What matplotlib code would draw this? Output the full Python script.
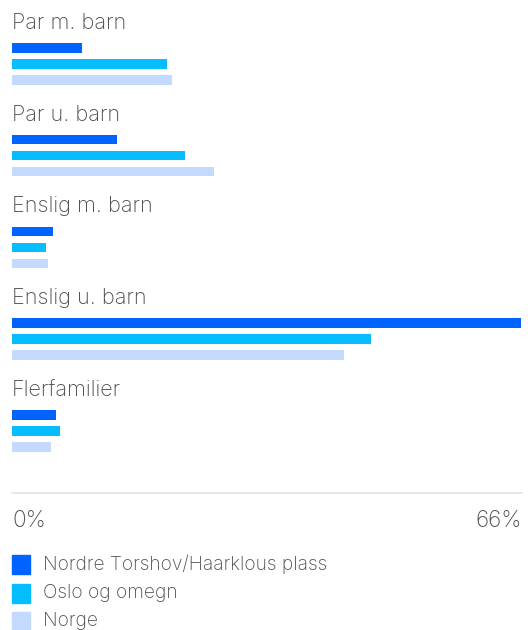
import matplotlib
matplotlib.use("Agg")
import matplotlib.pyplot as plt

# Data
categories = ["Par m. barn", "Par u. barn", "Enslig m. barn", "Enslig u. barn", "Flerfamilier"]
series = ["Nordre Torshov/Haarklous plass", "Oslo og omegn", "Norge"]
torshov = [9.0, 13.6, 5.3, 65.9, 5.7]
oslo = [20.0, 22.4, 4.4, 46.5, 6.2]
norge = [20.7, 26.1, 4.7, 43.0, 5.0]
tick_labels = ["0%", "66%"]
x_max = 66

colors = ["#0062FF", "#06BEFF", "#C3DAFE"]
text_color = "#4F4F4F"

plt.rcParams["font.family"] = ["Inter", "DejaVu Sans"]
plt.rcParams["font.weight"] = "light"

W, H = 528, 630
fig = plt.figure(figsize=(W / 100, H / 100), dpi=100)
# axes spans pixel columns 12..522 so data x 0..66 maps onto the plot width
ax = fig.add_axes([12 / W, 0, 510 / W, 1])
ax.set_xlim(0, x_max)
ax.set_ylim(H, 0)
ax.axis("off")

group_top = 43
group_pitch = 91.75
bar_pitch = 16
bar_h = 9.5

for i, cat in enumerate(categories):
    y0 = group_top + group_pitch * i
    ax.text(0, y0 - 14, cat, fontsize=15.6, color=text_color, va="baseline", ha="left")
    for j, vals in enumerate([torshov, oslo, norge]):
        ax.barh(y0 + bar_pitch * j + bar_h / 2, vals[i], height=bar_h,
                color=colors[j], left=0)

# baseline
ax.plot([0, x_max], [492.5, 492.5], color="#E1E4E8", lw=1.2, clip_on=False)
ax.text(0, 521, tick_labels[0], fontsize=16.3, color=text_color, ha="left", va="center")
ax.text(x_max, 521, tick_labels[1], fontsize=16.3, color=text_color, ha="right", va="center")

# legend
for j, name in enumerate(series):
    y = 555 + 28.5 * j
    ax.add_patch(plt.Rectangle((0, y), 18 * x_max / 510, 19, color=colors[j], clip_on=False))
    ax.text(31 * x_max / 510, y + 9.5, name, fontsize=13.8, color=text_color,
            ha="left", va="center")

fig.savefig("out.png", dpi=100)
